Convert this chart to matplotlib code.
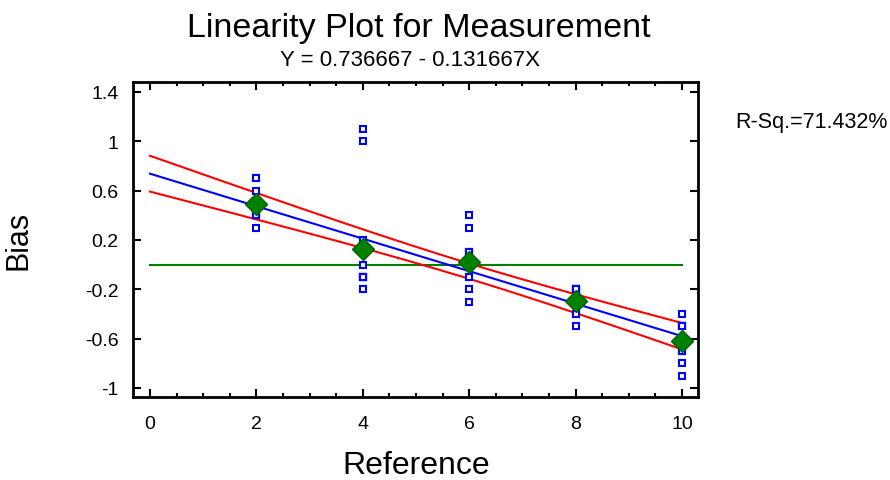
import numpy as np
import matplotlib
matplotlib.use('Agg')
import matplotlib.pyplot as plt
from matplotlib.ticker import MultipleLocator

plt.rcParams['font.family'] = ['Liberation Sans', 'DejaVu Sans']

# -----------------------------------------------------------------------
# Data: bias of 12 repeat measurements at each reference value
# -----------------------------------------------------------------------
REFERENCE = [2, 4, 6, 8, 10]
BIAS_REF2 = [0.7, 0.5, 0.4, 0.5, 0.7, 0.3, 0.5, 0.5, 0.4, 0.4, 0.6, 0.4]
BIAS_REF4 = [1.1, -0.1, 0.2, 1.0, -0.2, -0.1, -0.1, -0.1, -0.1, 0.0, 0.1, -0.2]
BIAS_REF6 = [-0.2, -0.3, -0.1, -0.1, 0.0, 0.1, 0.0, 0.1, 0.4, 0.3, 0.0, 0.1]
BIAS_REF8 = [-0.4, -0.3, -0.2, -0.3, -0.2, -0.2, -0.2, -0.3, -0.2, -0.5, -0.4, -0.3]
BIAS_REF10 = [-0.9, -0.7, -0.5, -0.7, -0.6, -0.5, -0.5, -0.5, -0.4, -0.8, -0.7, -0.6]
BIAS = [BIAS_REF2, BIAS_REF4, BIAS_REF6, BIAS_REF8, BIAS_REF10]

T_975 = 2.0017   # t(0.975, df=58)

# -----------------------------------------------------------------------
# Regression of bias on reference
# -----------------------------------------------------------------------
x = np.concatenate([[r] * len(b) for r, b in zip(REFERENCE, BIAS)]).astype(float)
y = np.concatenate(BIAS).astype(float)
n = len(x)
slope, intercept = np.polyfit(x, y, 1)
resid = y - (intercept + slope * x)
s = np.sqrt(np.sum(resid ** 2) / (n - 2))
sxx = np.sum((x - x.mean()) ** 2)
r_sq = 1 - np.sum(resid ** 2) / np.sum((y - y.mean()) ** 2)

xg = np.linspace(0, 10, 200)
fit = intercept + slope * xg
half = T_975 * s * np.sqrt(1 / n + (xg - x.mean()) ** 2 / sxx)
means = [np.mean(b) for b in BIAS]

# -----------------------------------------------------------------------
# Plot
# -----------------------------------------------------------------------
fig = plt.figure(figsize=(8.9, 4.81), dpi=100)
ax = fig.add_axes([0.1494, 0.1726, 0.6348, 0.6549])

ax.plot([0, 10], [0, 0], color='#008000', lw=1.5, zorder=2)
ax.plot(xg, fit + half, color='red', lw=1.5, zorder=3)
ax.plot(xg, fit - half, color='red', lw=1.5, zorder=3)
ax.plot(xg, fit, color='blue', lw=1.5, zorder=3)
ax.plot(x, y, 's', ms=4, mfc='white', mec='blue', mew=1.5, ls='none', zorder=4)
ax.plot(REFERENCE, means, 'D', ms=11, color='#008000', mec='#006400',
        ls='none', zorder=5)

ax.set_xlim(-0.32, 10.3)
ax.set_ylim(-1.073, 1.48)
ax.set_xticks([0, 2, 4, 6, 8, 10])
ax.xaxis.set_minor_locator(MultipleLocator(0.5))
ax.set_yticks([1.4, 1, 0.6, 0.2, -0.2, -0.6, -1])
ax.set_yticklabels(['1.4', '1', '0.6', '0.2', '-0.2', '-0.6', '-1'])

for sp in ax.spines.values():
    sp.set_linewidth(2)
ax.tick_params(which='both', direction='in', top=True, right=True,
               labelsize=14, width=1.5)
ax.tick_params(which='major', length=6)
ax.tick_params(which='minor', length=3)
ax.tick_params(axis='x', which='major', pad=13)
ax.tick_params(axis='y', which='major', pad=10.5)

fig.text(0.468, 0.0146, 'Reference', fontsize=23, ha='center', va='baseline')
fig.text(0.0213, 0.501, 'Bias', fontsize=22, rotation=90,
         ha='center', va='center')

fig.text(0.471, 0.923, 'Linearity Plot for Measurement', fontsize=24.5,
         ha='center', va='baseline')
fig.text(0.461, 0.862, f'Y = {intercept:.6f} - {abs(slope):.6f}X',
         fontsize=16, ha='center', va='baseline')
fig.text(0.826, 0.734, f'R-Sq.={r_sq * 100:.3f}%', fontsize=15.5,
         ha='left', va='baseline')

fig.savefig('out.png', dpi=100)
